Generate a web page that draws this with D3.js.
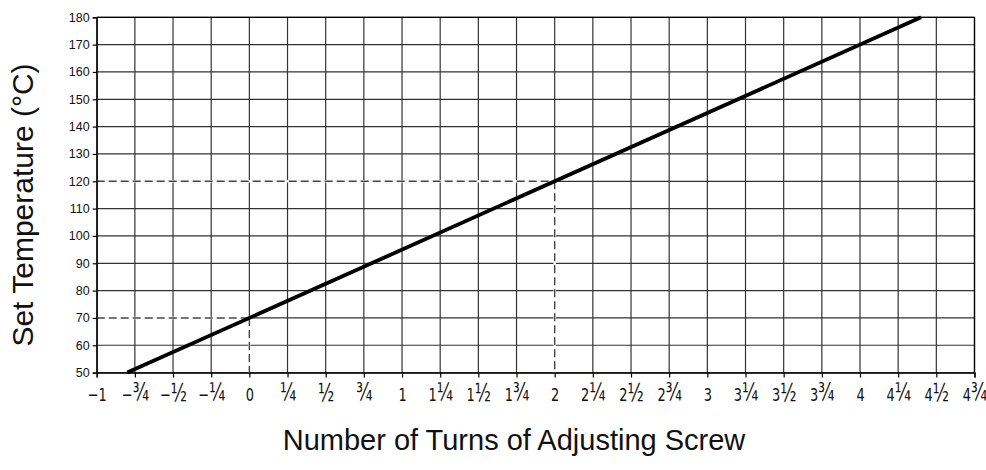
<!DOCTYPE html>
<html>
<head>
<meta charset="utf-8">
<script src="https://cdn.jsdelivr.net/npm/d3@7"></script>
<style>
  html, body { margin: 0; padding: 0; background: #fff; }
  svg { display: block; }
</style>
</head>
<body>
<svg id="chart" width="986" height="470"></svg>
<script>
// ---- data ----
const xTicks = [-1, -0.75, -0.5, -0.25, 0, 0.25, 0.5, 0.75, 1, 1.25, 1.5, 1.75, 2, 2.25, 2.5, 2.75, 3, 3.25, 3.5, 3.75, 4, 4.25, 4.5, 4.75];
const xTickLabels = ["−1", "−¾", "−½", "−¼", "0", "¼", "½", "¾", "1", "1¼", "1½", "1¾", "2", "2¼", "2½", "2¾", "3", "3¼", "3½", "3¾", "4", "4¼", "4½", "4¾"];
const yTicks = [50, 60, 70, 80, 90, 100, 110, 120, 130, 140, 150, 160, 170, 180];
const lineTurns = [-0.8, 4.4];
const lineTemps = [50, 180];
const guideTurns = [0, 2];
const guideTemps = [70, 120];
const xTitle = "Number of Turns of Adjusting Screw";
const yTitle = "Set Temperature (°C)";

// ---- layout ----
const svg = d3.select("#chart");
const mLeft = 96.7, mRight = 974.5, mTop = 17.3, mBottom = 372.6;
const x = d3.scaleLinear().domain([-1, 4.75]).range([mLeft, mRight]);
const y = d3.scaleLinear().domain([50, 180]).range([mBottom, mTop]);

const gridColor = "#333";

// grid lines
const grid = svg.append("g");
grid.selectAll("line.v").data(xTicks).join("line")
  .attr("x1", d => x(d)).attr("x2", d => x(d))
  .attr("y1", y(50)).attr("y2", y(180))
  .attr("stroke", gridColor).attr("stroke-width", 1.2);
grid.selectAll("line.h").data(yTicks).join("line")
  .attr("x1", x(-1)).attr("x2", x(4.75))
  .attr("y1", d => y(d)).attr("y2", d => y(d))
  .attr("stroke", gridColor).attr("stroke-width", 1.2);

// guide segments: blank out the grid under them, then dash
const guides = guideTurns.map((t, i) => ({ t, v: guideTemps[i] }));
const segs = [];
guides.forEach(g => {
  segs.push([g.t, g.v, g.t, 50]);
  segs.push([-1, g.v, g.t, g.v]);
});
svg.append("g").selectAll("line").data(segs).join("line")
  .attr("x1", d => x(d[0])).attr("y1", d => y(d[1]))
  .attr("x2", d => x(d[2])).attr("y2", d => y(d[3]))
  .attr("stroke", "#fff").attr("stroke-width", 2.5);
svg.append("g").selectAll("line").data(segs).join("line")
  .attr("x1", d => x(d[0])).attr("y1", d => y(d[1]))
  .attr("x2", d => x(d[2])).attr("y2", d => y(d[3]))
  .attr("stroke", "#444").attr("stroke-width", 1.4)
  .attr("stroke-dasharray", "8,4");

// axes
const xAxis = d3.axisBottom(x).tickValues(xTicks)
  .tickFormat((d, i) => xTickLabels[i]).tickSize(5).tickPadding(10);
const gx = svg.append("g").attr("transform", `translate(0,${y(50)})`).call(xAxis);
gx.select(".domain").attr("stroke", "#000").attr("stroke-width", 1.3);
gx.selectAll(".tick line").attr("stroke", "#000").attr("stroke-width", 1.2);

// x tick labels: whole part + enlarged fraction glyph, horizontally condensed
const fracChars = "¼½¾";
gx.selectAll(".tick text").each(function (d, i) {
  const label = xTickLabels[i];
  const last = label.slice(-1);
  const hasFrac = fracChars.includes(last);
  const whole = hasFrac ? label.slice(0, -1) : label;
  const t = d3.select(this);
  t.text(null)
    .attr("font-family", "'DejaVu Sans', sans-serif")
    .attr("font-size", 18.5).attr("fill", "#111")
    .attr("dy", null).attr("y", 28.8)
    .attr("transform", "scale(0.7,1)");
  if (whole) t.append("tspan").text(whole);
  if (hasFrac) t.append("tspan").attr("font-size", 24).text(last);
});

const yAxis = d3.axisLeft(y).tickValues(yTicks).tickSize(4).tickPadding(3);
const gy = svg.append("g").attr("transform", `translate(${x(-1)},0)`).call(yAxis);
gy.select(".domain").attr("stroke", "#000").attr("stroke-width", 1.3);
gy.selectAll(".tick line").attr("stroke", "#000").attr("stroke-width", 1.2);
gy.selectAll(".tick text")
  .attr("font-family", "'Liberation Sans', Arial, sans-serif")
  .attr("font-size", 12.5).attr("fill", "#111");

// frame top/right
svg.append("line").attr("x1", x(-1)).attr("x2", x(4.75)).attr("y1", y(180)).attr("y2", y(180))
  .attr("stroke", "#000").attr("stroke-width", 1.3);
svg.append("line").attr("x1", x(4.75)).attr("x2", x(4.75)).attr("y1", y(50)).attr("y2", y(180))
  .attr("stroke", "#000").attr("stroke-width", 1.3);

// main line
const lineData = lineTurns.map((t, i) => [t, lineTemps[i]]);
svg.append("path").datum(lineData)
  .attr("d", d3.line().x(d => x(d[0])).y(d => y(d[1])))
  .attr("fill", "none").attr("stroke", "#000").attr("stroke-width", 3.8);

// titles
svg.append("text").attr("x", 514).attr("y", 450)
  .attr("text-anchor", "middle")
  .attr("font-family", "'Liberation Sans', Arial, sans-serif")
  .attr("font-size", 29).attr("fill", "#111")
  .text(xTitle);
svg.append("text")
  .attr("transform", "translate(33,205) rotate(-90)")
  .attr("text-anchor", "middle")
  .attr("font-family", "'Liberation Sans', Arial, sans-serif")
  .attr("font-size", 30).attr("fill", "#111")
  .text(yTitle);
</script>
</body>
</html>
